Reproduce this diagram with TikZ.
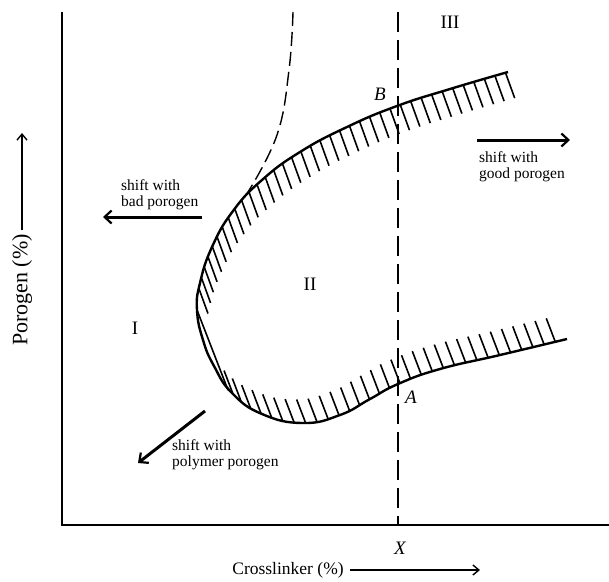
\documentclass[tikz,border=0pt]{standalone}
\usepackage{fontspec}
\setmainfont{Liberation Serif}
\usetikzlibrary{decorations.markings,arrows.meta}
\begin{document}
\begin{tikzpicture}[x=1pt,y=-1pt,
  axisline/.style={line width=1.5pt},
  bound/.style={line width=2.4pt},
  hatchline/.style={line width=1.6pt},
  dashline/.style={line width=1.4pt, dash pattern=on 20pt off 8pt},
  dashcurve/.style={line width=1.4pt, dash pattern=on 14pt off 6pt},
  shiftarrow/.style={line width=3pt, -{Straight Barb[length=7pt,width=13pt,line width=2.2pt]}},
  labelarrow/.style={line width=1.2pt, -{Straight Barb[length=6pt,width=10pt,line width=1.4pt]}},
  lbl/.style={font=\fontsize{15.5}{16}\selectfont, align=left, inner sep=0pt, anchor=west},
  region/.style={font=\fontsize{19}{20}\selectfont, inner sep=0pt},
  pointlbl/.style={font=\fontsize{19}{20}\selectfont\itshape, inner sep=0pt}]
\useasboundingbox (0,0) rectangle (609,581);
% axes
\coordinate (O) at (62,525);
\coordinate (Ytop) at (62,12);
\coordinate (Xend) at (609,525);
\draw[axisline] (Ytop) -- (O) -- (Xend);
% vertical dashed line at X
\coordinate (Dtop) at (398,12);
\coordinate (Dbot) at (398,525);
\draw[dashline] (Dtop) -- (Dbot);
% dashed curve
\draw[dashcurve] plot[smooth, tension=0.7] coordinates {(293,12) (289,70) (277,135) (248,192)};
% boundary curve with hatching
\draw[bound, postaction={decorate}, decoration={markings,
  mark=between positions 0.003 and 0.461 step 11pt with {\pgftransformresetnontranslations \draw[hatchline] (0pt,0pt) -- (9.2pt,-25.4pt);},
  mark=between positions 0.59 and 0.999 step 11.5pt with {\pgftransformresetnontranslations \draw[hatchline] (0pt,0pt) -- (-9pt,23.5pt);}}]
  plot[smooth, tension=0.8] coordinates {(508,72) (450,89) (397,106) (347,127) (300,152) (262,180) (233,211) (212,247) (200,283) (197,310) (203,340) (214,366) (232,393) (262,414) (303,423) (340,415) (370,399) (398,384) (440,369) (500,355) (567,339)};
\coordinate (L1) at (197,310);
\coordinate (L2) at (228,390);
\draw[hatchline] (L1) -- (L2);
% region labels
\node[region] (r1) at (135,328) {I};
\node[region] (r2) at (310,284) {II};
\node[region] (r3) at (450,22) {III};
\node[pointlbl] (pB) at (380,94) {B};
\node[pointlbl] (pA) at (411,397) {A};
\node[pointlbl] (pX) at (400,548) {X};
% shift arrows
\coordinate (s1a) at (202,217); \coordinate (s1b) at (103,217);
\draw[shiftarrow] (s1a) -- (s1b);
\node[lbl] (t1) at (121,195) {shift with\\bad porogen};
\coordinate (s2a) at (477,140); \coordinate (s2b) at (570,140);
\draw[shiftarrow] (s2a) -- (s2b);
\node[lbl] (t2) at (479,167) {shift with\\good porogen};
\coordinate (s3a) at (205,411); \coordinate (s3b) at (138,463);
\draw[shiftarrow] (s3a) -- (s3b);
\node[lbl] (t3) at (172,455) {shift with\\polymer porogen};
% axis labels
\node[font=\fontsize{17.5}{18}\selectfont, inner sep=0pt] (xl) at (288,570) {Crosslinker (\%)};
\coordinate (xa1) at (350,570); \coordinate (xa2) at (480,570);
\draw[labelarrow] (xa1) -- (xa2);
\node[font=\fontsize{22}{22}\selectfont, inner sep=0pt, rotate=90] (yl) at (22,290) {Porogen (\%)};
\coordinate (ya1) at (22,230); \coordinate (ya2) at (22,133);
\draw[labelarrow] (ya1) -- (ya2);
\end{tikzpicture}
\end{document}
